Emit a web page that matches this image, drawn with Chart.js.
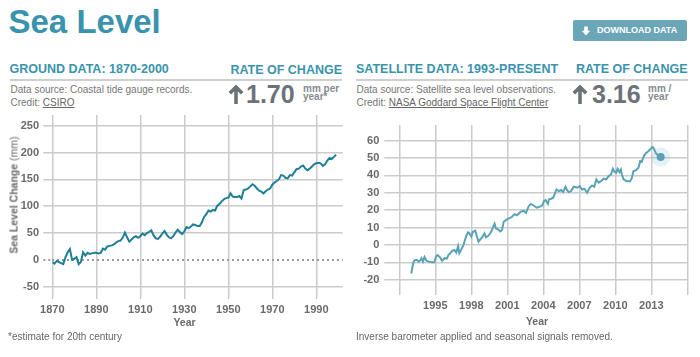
<!DOCTYPE html>
<html><head><meta charset="utf-8">
<script src="https://cdn.jsdelivr.net/npm/chart.js@4.4.1/dist/chart.umd.min.js"></script>
<style>
html,body{margin:0;padding:0;}
body{width:700px;height:357px;background:#fff;position:relative;overflow:hidden;font-family:"Liberation Sans",Arial,Helvetica,sans-serif;}
.a{position:absolute;white-space:nowrap;}
.teal{color:#3a93ad;font-weight:bold;}
.src{font-size:10px;line-height:10px;color:#777;}
.big{font-size:25px;line-height:25px;font-weight:bold;color:#6b7379;}
.unit{font-size:10px;line-height:10px;font-weight:bold;color:#858c92;}
.rule{position:absolute;height:2px;background:#cfcfcf;}
.u{text-decoration:underline;color:#666;}
.cw{position:absolute;width:350px;height:220px;top:110px;}
.yr{position:absolute;white-space:nowrap;transform:translateX(-50%);font-size:10.5px;line-height:10.5px;font-weight:bold;color:#6a6a6a;}
</style></head><body>

<div class="a teal" style="left:8.5px;top:5.4px;font-size:33px;line-height:33px;">Sea Level</div>

<div class="a" style="left:573px;top:20px;width:114px;height:21px;background:#6ba6b8;border-radius:2px;"></div>
<svg class="a" style="left:581px;top:26px;" width="10" height="10" viewBox="0 0 10 10"><path d="M3.2 0.5h3.6v4.2h2.4L5 9.5 0.8 4.7h2.4z" fill="#fff"/></svg>
<div class="a" style="left:597px;top:26.4px;font-size:9px;line-height:9px;font-weight:bold;color:#fff;">DOWNLOAD DATA</div>

<!-- left header -->
<div class="a teal" style="left:9.5px;top:62.9px;font-size:12.5px;line-height:12.5px;">GROUND DATA: 1870-2000</div>
<div class="a teal" style="right:358px;top:64.2px;font-size:12.5px;line-height:12.5px;">RATE OF CHANGE</div>
<div class="rule" style="left:10px;top:79px;width:332px;"></div>
<div class="a src" style="left:10.5px;top:84.8px;">Data source: Coastal tide gauge records.</div>
<div class="a src" style="left:10.5px;top:97.5px;">Credit: <span class="u">CSIRO</span></div>
<svg class="a" style="left:228px;top:85px;" width="16" height="19" viewBox="0 0 16 19"><path d="M8 2V19M1.8 8.2L8 2l6.2 6.2" stroke="#6b7379" stroke-width="3.6" fill="none"/></svg>
<div class="a big" style="left:246px;top:81.8px;">1.70</div>
<div class="a unit" style="left:303px;top:83.5px;">mm per</div>
<div class="a unit" style="left:303px;top:92px;">year*</div>

<!-- right header -->
<div class="a teal" style="left:356px;top:63.2px;font-size:12.5px;line-height:12.5px;">SATELLITE DATA: 1993-PRESENT</div>
<div class="a teal" style="right:12.5px;top:63.4px;font-size:12.5px;line-height:12.5px;">RATE OF CHANGE</div>
<div class="rule" style="left:356px;top:79px;width:332px;"></div>
<div class="a src" style="left:356.5px;top:84.8px;">Data source: Satellite sea level observations.</div>
<div class="a src" style="left:356.5px;top:97.5px;">Credit: <span class="u">NASA Goddard Space Flight Center</span></div>
<svg class="a" style="left:572px;top:85px;" width="16" height="19" viewBox="0 0 16 19"><path d="M8 2V19M1.8 8.2L8 2l6.2 6.2" stroke="#6b7379" stroke-width="3.6" fill="none"/></svg>
<div class="a big" style="left:592px;top:81.8px;">3.16</div>
<div class="a unit" style="left:648px;top:83.5px;">mm /</div>
<div class="a unit" style="left:648px;top:92px;">year</div>

<!-- charts -->
<div class="cw" style="left:0;"><canvas id="c1"></canvas></div>
<div class="cw" style="left:350px;"><canvas id="c2"></canvas></div>

<div class="a" style="left:14px;top:195px;transform:translate(-50%,-50%) rotate(-90deg);font-size:10.5px;line-height:11px;color:#6a6a6a;"><b>Sea Level Change</b> (mm)</div>
<div class="yr" style="left:184.5px;top:317.4px;">Year</div>
<div class="yr" style="left:537px;top:315.6px;">Year</div>

<div class="a src" style="left:8px;top:332px;color:#666;">*estimate for 20th century</div>
<div class="a src" style="left:356px;top:332px;color:#666;">Inverse barometer applied and seasonal signals removed.</div>

<script>
// ---------- Ground data (CSIRO tide gauges), mm ----------
const groundYears = [1870,1871,1872,1873,1874,1875,1876,1877,1878,1879,1880,1881,1882,1883,1884,1885,1886,1887,1888,1889,
1890,1891,1892,1893,1894,1895,1896,1897,1898,1899,1900,1901,1902,1903,1904,1905,1906,1907,1908,1909,
1910,1911,1912,1913,1914,1915,1916,1917,1918,1919,1920,1921,1922,1923,1924,1925,1926,1927,1928,1929,
1930,1931,1932,1933,1934,1935,1936,1937,1938,1939,1940,1941,1942,1943,1944,1945,1946,1947,1948,1949,
1950,1951,1952,1953,1954,1955,1956,1957,1958,1959,1960,1961,1962,1963,1964,1965,1966,1967,1968,1969,
1970,1971,1972,1973,1974,1975,1976,1977,1978,1979,1980,1981,1982,1983,1984,1985,1986,1987,1988,1989,
1990,1991,1992,1993,1994,1995,1996,1997,1998,1999];
const groundLevels = [-4,-7,-2,-4,-6,-8,5,14,20,0,2,5,-8,-4,14,8,13,11,12,13,
13,12,13,21,19,25,26,27,29,32,35,36,41,51,42,34,38,42,44,41,
44,49,46,50,52,55,46,40,39,43,49,54,47,42,40,44,51,56,52,48,
53,61,59,62,66,65,63,63,70,80,85,92,90,93,92,101,104,109,113,115,
116,124,118,117,117,119,114,130,131,133,137,141,138,133,129,127,124,128,131,133,
140,144,147,150,158,157,153,152,158,157,163,169,170,174,176,170,167,170,174,178,
180,181,180,175,178,185,190,188,192,196];
const groundXTicks = [1870,1890,1910,1930,1950,1970,1990];
const groundYTicks = [-50,0,50,100,150,200,250];

// ---------- Satellite data (NASA GSFC), mm ----------
const satYears = [1993.0,1993.1,1993.2,1993.3,1993.45,1993.6,1993.75,1993.85,1993.97,1994.1,1994.25,1994.45,1994.7,1994.92,
1995.06,1995.2,1995.4,1995.56,1995.78,1995.97,1996.1,1996.25,1996.4,1996.6,1996.75,1996.9,1997.0,1997.17,1997.36,1997.56,1997.72,1997.83,
1998.0,1998.14,1998.33,1998.47,1998.6,1998.75,1998.94,1999.1,1999.22,1999.39,1999.58,1999.72,1999.94,2000.06,2000.22,2000.42,2000.56,2000.7,2000.83,
2001.1,2001.4,2001.6,2001.8,2002.1,2002.36,2002.56,2002.78,2002.95,2003.17,2003.45,2003.72,2003.92,2004.06,2004.19,2004.39,2004.47,2004.66,2004.83,2004.94,
2005.1,2005.3,2005.49,2005.66,2005.85,2005.99,2006.13,2006.32,2006.54,2006.82,2007.04,2007.23,2007.43,2007.65,2007.87,2008.06,2008.25,2008.42,2008.61,2008.81,
2009.03,2009.25,2009.44,2009.64,2009.8,2009.91,2010.08,2010.19,2010.35,2010.46,2010.55,2010.69,2010.96,2011.24,2011.38,2011.51,2011.73,2011.93,
2012.07,2012.2,2012.4,2012.56,2012.76,2012.95,2013.12,2013.23,2013.39,2013.59,2013.78];
const satLevels = [-16.5,-12.4,-9.5,-8.8,-8.6,-9.6,-8.8,-7.6,-9.5,-7.0,-9.0,-9.6,-9.9,-10.0,
-6.7,-5.8,-7.2,-9.0,-7.6,-7.8,-5.7,-4.8,-3.4,-2.9,-4.4,-0.8,-4.8,-2.6,0.2,4.8,7.2,6.8,
4.8,7.6,8.2,4.8,1.9,3.2,4.8,6.7,4.4,5.1,6.7,8.6,12.2,9.5,9.0,7.8,8.6,13.3,14.0,
15.2,16.2,17.7,17.1,19.0,19.6,18.5,22.3,23.6,22.8,21.4,22.0,22.8,25.3,25.8,23.6,26.2,26.6,27.2,29.1,
31.9,31.0,31.6,30.4,33.5,31.4,30.4,31.0,33.5,32.9,33.9,31.9,32.3,30.0,32.9,34.2,33.5,37.7,35.8,36.7,
38.1,37.7,39.6,40.5,43.8,42.4,41.5,43.8,41.9,43.4,40.5,37.7,36.7,36.7,38.6,42.4,43.0,44.4,
48.2,47.8,51.4,52.9,53.9,55.4,56.4,55.2,52.6,51.4,50.6];
const satXTicks = [1992,1995,1998,2001,2004,2007,2010,2013,2016];
const satXLabelled = [1995,1998,2001,2004,2007,2010,2013];
const satYTicks = [-20,-10,0,10,20,30,40,50,60];

const GRID = '#cbcbcb';
const TICKC = '#6a6a6a';
const REG = '"Liberation Sans",Arial,sans-serif';

function fixTicks(list){ return s => { s.ticks = list.map(v => ({value:v})); }; }

// ---------- Left chart ----------
new Chart(document.getElementById('c1'), {
  type: 'line',
  data: { datasets: [{
    data: groundYears.map((y,i)=>({x:y, y:groundLevels[i]})),
    borderColor: '#1f7f98', borderWidth: 2, pointRadius: 0, tension: 0, fill: false
  }]},
  options: {
    responsive: true, maintainAspectRatio: false, animation: false,
    layout: { padding: { left: 0, top: 5, right: 7.3, bottom: 0 } },
    plugins: { legend: { display: false }, tooltip: { enabled: false } },
    scales: {
      x: {
        type: 'linear', min: 1870, max: 2002,
        afterBuildTicks: fixTicks(groundXTicks),
        afterFit: s => { s.height = 31; s.paddingLeft = 0; s.paddingRight = 0; },
        ticks: { callback: v => String(v), color: TICKC, font: { family: REG, size: 11, weight: 'bold' }, padding: 4.4, maxRotation: 0, autoSkip: false },
        grid: { color: GRID, lineWidth: 1.5, drawTicks: false },
        border: { display: false },
        title: { display: false }
      },
      y: {
        type: 'linear', min: -73, max: 270,
        afterBuildTicks: fixTicks(groundYTicks),
        afterFit: s => { s.width = 52.3; s.paddingTop = 0; s.paddingBottom = 0; },
        ticks: { callback: v => String(v), color: TICKC, font: { family: REG, size: 11, weight: 'bold' }, padding: 4.3, autoSkip: false },
        grid: {
          color: c => (c.tick && c.tick.value === 0) ? '#9a9a9a' : GRID,
          lineWidth: c => (c.tick && c.tick.value === 0) ? 2 : 1.5,
          tickLength: 9,
          tickBorderDash: c => (c.tick && c.tick.value === 0) ? [2, 3] : []
        },
        border: { display: false, dash: c => (c.tick && c.tick.value === 0) ? [2, 3] : [] }
      }
    }
  }
});

// ---------- Right chart ----------
const lastI = satYears.length - 1;
new Chart(document.getElementById('c2'), {
  type: 'line',
  data: { datasets: [
    {
      data: satYears.map((y,i)=>({x:y, y:satLevels[i]})),
      borderColor: '#5aa3b6', borderWidth: 2, tension: 0, fill: false,
      pointRadius: c => c.dataIndex === lastI ? 4 : 0,
      pointBackgroundColor: '#5a9fb2', pointBorderWidth: 0, order: 1
    },
    {
      data: [{x: satYears[lastI], y: satLevels[lastI]}],
      showLine: false, pointRadius: 9.5, pointBackgroundColor: 'rgba(100,165,190,0.16)', pointBorderWidth: 0, order: 2
    }
  ]},
  options: {
    responsive: true, maintainAspectRatio: false, animation: false,
    layout: { padding: { left: 0, top: 15, right: 12.7, bottom: 0 } },
    plugins: { legend: { display: false }, tooltip: { enabled: false } },
    scales: {
      x: {
        type: 'linear', min: 1992, max: 2016,
        afterBuildTicks: fixTicks(satXTicks),
        afterFit: s => { s.height = 35; s.paddingLeft = 0; s.paddingRight = 0; },
        ticks: { callback: v => satXLabelled.includes(v) ? String(v) : '', color: TICKC, font: { family: REG, size: 11, weight: 'bold' }, padding: 4.4, maxRotation: 0, autoSkip: false },
        grid: { color: GRID, lineWidth: 1.5, drawTicks: false },
        border: { display: false },
        title: { display: false }
      },
      y: {
        type: 'linear', min: -28.8, max: 69,
        afterBuildTicks: fixTicks(satYTicks),
        afterFit: s => { s.width = 49.3; s.paddingTop = 0; s.paddingBottom = 0; },
        ticks: { callback: v => String(v), color: TICKC, font: { family: REG, size: 11, weight: 'bold' }, padding: 5, autoSkip: false },
        grid: { color: GRID, lineWidth: 1.5, tickLength: 15 },
        border: { display: false }
      }
    }
  }
});
</script>
</body></html>
